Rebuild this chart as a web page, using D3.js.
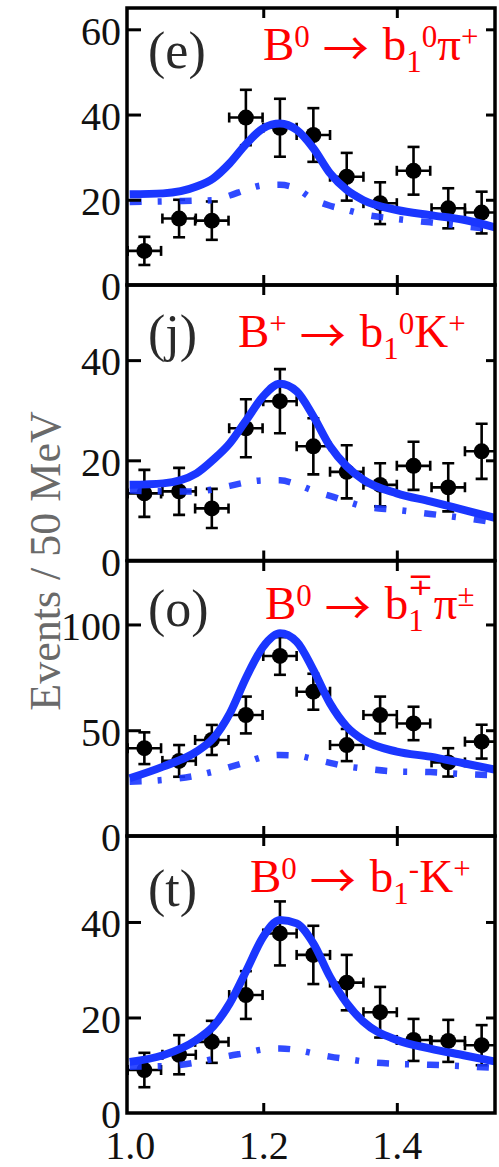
<!DOCTYPE html>
<html>
<head>
<meta charset="utf-8">
<script src="https://cdn.jsdelivr.net/npm/d3@7"></script>
<style>
  html, body { margin: 0; padding: 0; background: #fff; }
  svg { display: block; }
  text { font-family: "Liberation Serif", "DejaVu Serif", serif; }
</style>
</head>
<body>
<svg id="chart" width="499" height="1167"></svg>
<script>
// b1 invariant-mass bins (GeV), shared by all four panels
const massBins = [1.022, 1.074, 1.123, 1.174, 1.225, 1.275, 1.325, 1.375, 1.425, 1.477, 1.527];
const binHalfWidth = 0.025;
// mass points where the fit projections are sampled
const curveMass = [1.0, 1.05, 1.1, 1.125, 1.15, 1.175, 1.2, 1.225, 1.25, 1.275, 1.3, 1.325, 1.35, 1.4, 1.45, 1.5, 1.55];
const xTicks = [1.0, 1.2, 1.4];

// (e) B0 -> b1^0 pi+
const eventsE = [8.0, 15.6, 15.1, 39.3, 36.9, 35.2, 25.4, 19.2, 26.8, 18.0, 17.0];
const errorsE = [3.3, 4.4, 4.5, 6.5, 6.8, 6.3, 5.6, 4.9, 5.6, 4.7, 4.9];
const fitE    = [21.3, 21.5, 23.1, 25.0, 28.6, 33.2, 36.8, 37.9, 36.4, 32.1, 26.2, 22.3, 19.9, 17.6, 16.4, 15.3, 13.4];
const bkgE    = [19.5, 19.6, 19.8, 19.9, 21.0, 22.4, 23.4, 23.5, 22.6, 20.1, 18.6, 17.6, 16.6, 15.5, 14.7, 13.8, 13.0];
const yTicksE = [0, 20, 40, 60];

// (j) B+ -> b1^0 K+
const eventsJ = [13.4, 13.8, 10.4, 26.4, 31.8, 22.8, 17.7, 15.1, 18.9, 14.6, 21.8];
const errorsJ = [4.7, 4.7, 3.9, 5.8, 6.4, 5.6, 5.3, 4.3, 4.8, 4.8, 5.5];
const fitJ    = [15.1, 15.4, 17.4, 20.1, 23.4, 28.1, 32.8, 35.3, 33.8, 28.8, 22.8, 18.8, 16.1, 13.4, 11.8, 10.1, 8.4];
const bkgJ    = [14.0, 13.8, 13.8, 14.2, 14.9, 15.6, 16.0, 16.0, 15.2, 13.9, 12.9, 11.8, 10.8, 10.1, 9.3, 8.5, 7.5];
const yTicksJ = [0, 20, 40];

// (o) B0 -> b1^-+ pi^+-
const eventsO = [41.5, 35.5, 45.4, 57.2, 85.1, 68.2, 43.0, 57.2, 53.2, 34.8, 44.6];
const errorsO = [7.5, 7.5, 7.1, 8.7, 8.9, 8.5, 7.6, 8.7, 7.9, 6.7, 8.0];
const fitO    = [27.3, 32.8, 39.9, 46.1, 58.0, 75.3, 89.5, 95.8, 91.9, 78.5, 62.7, 51.7, 45.4, 39.9, 37.5, 34.4, 31.2];
const bkgO    = [25.7, 26.5, 28.6, 30.4, 32.6, 34.9, 37.4, 38.3, 38.0, 36.4, 34.6, 32.9, 31.9, 30.5, 30.2, 29.3, 28.6];
const yTicksO = [0, 50, 100];

// (t) B0 -> b1^- K+
const eventsT = [9.0, 12.2, 14.9, 24.7, 37.6, 33.1, 27.3, 21.1, 15.3, 15.1, 14.2];
const errorsT = [3.6, 4.1, 4.4, 5.0, 6.7, 6.1, 5.8, 5.3, 4.4, 4.4, 4.2];
const fitT    = [10.7, 12.1, 15.3, 18.1, 23.0, 29.9, 36.9, 40.4, 39.7, 35.5, 28.5, 23.0, 19.1, 15.3, 13.5, 12.1, 10.7];
const bkgT    = [9.7, 9.8, 10.6, 11.3, 12.0, 12.6, 13.3, 13.5, 13.2, 12.5, 11.8, 11.3, 10.8, 10.3, 10.1, 9.8, 9.4];
const yTicksT = [0, 20, 40];

const yTitle = "Events / 50 MeV";

// decay-mode labels: [text, role]
const modeE = [["B", "n"], ["0", "sup"], ["\u2192", "arrow"], ["b", "n"], ["1", "sub"], ["0", "sup"], ["\u03C0", "n"], ["+", "sup"]];
const modeJ = [["B", "n"], ["+", "sup"], ["\u2192", "arrow"], ["b", "n"], ["1", "sub"], ["0", "sup"], ["K", "n"], ["+", "sup"]];
const modeO = [["B", "n"], ["0", "sup"], ["\u2192", "arrow"], ["b", "n"], ["1", "sub"], ["\u2213", "stack"], ["\u03C0", "n"], ["\u00B1", "sup"]];
const modeT = [["B", "n"], ["0", "sup"], ["\u2192", "arrow"], ["b", "n"], ["1", "sub"], ["-", "sup"], ["K", "n"], ["+", "sup"]];

const panels = [
  { tag: "(e)", events: eventsE, errors: errorsE, fit: fitE, bkg: bkgE, yMax: 65,  yTicks: yTicksE, mode: modeE,
    top: 8,   bottom: 285,  modeX: 263, modeY: 60,  tagY: 68 },
  { tag: "(j)", events: eventsJ, errors: errorsJ, fit: fitJ, bkg: bkgJ, yMax: 55,  yTicks: yTicksJ, mode: modeJ,
    top: 285, bottom: 560.5, modeX: 238, modeY: 347, tagY: 351 },
  { tag: "(o)", events: eventsO, errors: errorsO, fit: fitO, bkg: bkgO, yMax: 130, yTicks: yTicksO, mode: modeO,
    top: 561, bottom: 836,  modeX: 265, modeY: 619, tagY: 626 },
  { tag: "(t)", events: eventsT, errors: errorsT, fit: fitT, bkg: bkgT, yMax: 58,  yTicks: yTicksT, mode: modeT,
    top: 836, bottom: 1113, modeX: 250, modeY: 892, tagY: 906 }
];

const svg = d3.select("#chart");
svg.append("rect").attr("width", 499).attr("height", 1167).attr("fill", "#fff");

const left = 127, right = 495;
const x = d3.scaleLinear().domain([0.996, 1.547]).range([left, right]);

const blue = "#1a36ff";
const mainSize = 47, scriptSize = 31;

panels.forEach((p, i) => {
  const y = d3.scaleLinear().domain([0, p.yMax]).range([p.bottom, p.top]);
  const g = svg.append("g");

  const clipId = "clip" + i;
  svg.append("clipPath").attr("id", clipId)
    .append("rect").attr("x", left).attr("y", p.top).attr("width", right - left).attr("height", p.bottom - p.top);

  const plot = g.append("g").attr("clip-path", `url(#${clipId})`);

  // data points with error bars
  const pts = massBins.map((m, k) => ({ m, v: p.events[k], e: p.errors[k] }));
  const pg = plot.append("g").attr("stroke", "#000").attr("stroke-width", 2.6);
  pts.forEach(d => {
    const cx = x(d.m), cy = y(d.v), y0 = y(d.v - d.e), y1 = y(d.v + d.e);
    const xa = x(d.m - binHalfWidth), xb = x(d.m + binHalfWidth);
    pg.append("line").attr("x1", cx).attr("x2", cx).attr("y1", y0).attr("y2", y1);
    pg.append("line").attr("x1", cx - 6).attr("x2", cx + 6).attr("y1", y0).attr("y2", y0);
    pg.append("line").attr("x1", cx - 6).attr("x2", cx + 6).attr("y1", y1).attr("y2", y1);
    pg.append("line").attr("x1", xa).attr("x2", xb).attr("y1", cy).attr("y2", cy);
    pg.append("line").attr("x1", xa).attr("x2", xa).attr("y1", cy - 5).attr("y2", cy + 5);
    pg.append("line").attr("x1", xb).attr("x2", xb).attr("y1", cy - 5).attr("y2", cy + 5);
  });
  plot.append("g").selectAll("path").data(pts).join("path")
    .attr("d", d3.symbol(d3.symbolCircle, 200))
    .attr("transform", d => `translate(${x(d.m)},${y(d.v)})`)
    .attr("fill", "#000");

  // background projection (dash-dot) and total fit (solid)
  const line = d3.line().x(d => x(d[0])).y(d => y(d[1])).curve(d3.curveMonotoneX);
  plot.append("path")
    .attr("d", line(curveMass.map((m, k) => [m, p.bkg[k]])))
    .attr("fill", "none").attr("stroke", blue).attr("stroke-width", 6.5)
    .attr("stroke-dasharray", "12,16,4,18").attr("opacity", 0.9);
  plot.append("path")
    .attr("d", line(curveMass.map((m, k) => [m, p.fit[k]])))
    .attr("fill", "none").attr("stroke", blue).attr("stroke-width", 8)
    .attr("stroke-linejoin", "round");

  // axes with inward ticks
  const yl = g.append("g").attr("transform", `translate(${left},0)`)
    .call(d3.axisLeft(y).tickValues(p.yTicks).tickSizeInner(-14).tickSizeOuter(0).tickPadding(6));
  const yr = g.append("g").attr("transform", `translate(${right},0)`)
    .call(d3.axisRight(y).tickValues(p.yTicks).tickSizeInner(-9).tickSizeOuter(0).tickFormat(""));
  const xt = g.append("g").attr("transform", `translate(0,${p.top})`)
    .call(d3.axisTop(x).tickValues(xTicks.slice(1)).tickSizeInner(-10).tickSizeOuter(0).tickFormat(""));
  const xbAxis = d3.axisBottom(x).tickValues(xTicks).tickSizeInner(-10).tickSizeOuter(0);
  if (i < panels.length - 1) xbAxis.tickFormat("");
  else xbAxis.tickFormat(d3.format(".1f"));
  const xbg = g.append("g").attr("transform", `translate(0,${p.bottom})`).call(xbAxis);
  xbg.selectAll(".tick").filter(d => d === xTicks[0]).select("line").remove();

  [yl, yr, xt, xbg].forEach(a => {
    a.select(".domain").remove();
    a.selectAll(".tick line").attr("stroke", "#000").attr("stroke-width", 3);
  });
  yl.selectAll(".tick").filter(d => d === 0).select("line").remove();
  yr.selectAll(".tick").filter(d => d === 0).select("line").remove();
  yl.selectAll("text").attr("font-family", "Liberation Serif, serif").attr("font-size", 40)
    .attr("fill", "#111").attr("dy", "0.37em");
  xbg.selectAll("text").attr("font-family", "Liberation Serif, serif").attr("font-size", 40)
    .attr("fill", "#111").attr("dy", null).attr("y", 46);

  // frame
  g.append("rect").attr("x", left).attr("y", p.top).attr("width", right - left).attr("height", p.bottom - p.top)
    .attr("fill", "none").attr("stroke", "#000").attr("stroke-width", 3.5);

  // panel tag
  g.append("text").attr("x", 148).attr("y", p.tagY).attr("font-size", 52).attr("fill", "#2a2a2a")
    .text(p.tag);

  // decay mode label
  const t = g.append("text").attr("x", p.modeX).attr("y", p.modeY).attr("fill", "#ff0000")
    .attr("font-size", mainSize);
  p.mode.forEach(([s, role], k) => {
    const ts = t.append("tspan").text(s);
    if (role === "n") ts.attr("y", p.modeY).attr("font-size", mainSize);
    if (role === "sup") ts.attr("y", p.modeY - 13).attr("font-size", scriptSize);
    if (role === "sub") ts.attr("y", p.modeY + 12).attr("font-size", scriptSize);
    if (role === "stack") ts.attr("y", p.modeY - 24).attr("dx", -16).attr("font-size", scriptSize);
    if (role === "arrow") ts.attr("y", p.modeY + 5).attr("dx", 13).attr("font-size", 46)
      .attr("font-family", "Noto Sans CJK JP, DejaVu Sans, sans-serif");
    if (k > 0 && p.mode[k - 1][1] === "arrow") ts.attr("dx", 14);
  });
});

// shared y-axis title
svg.append("text")
  .attr("transform", "translate(60,561) rotate(-90)")
  .attr("text-anchor", "middle")
  .attr("font-size", 44).attr("fill", "#6a6a6a")
  .text(yTitle);
</script>
</body>
</html>
